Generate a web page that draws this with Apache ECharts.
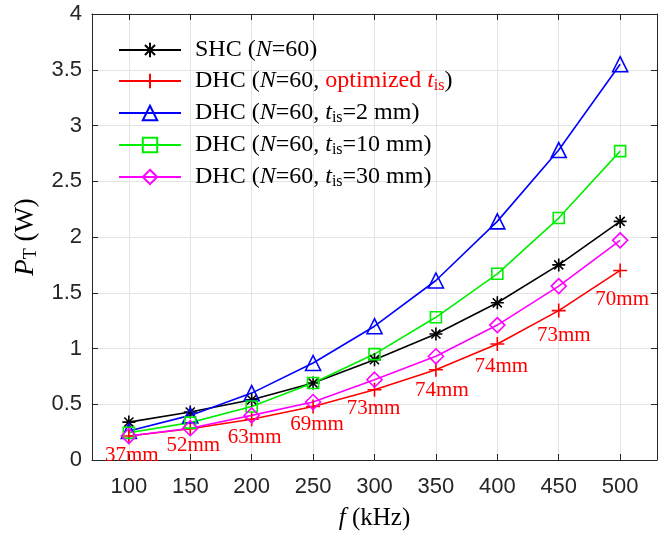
<!DOCTYPE html>
<html>
<head>
<meta charset="utf-8">
<script src="https://cdn.jsdelivr.net/npm/echarts@6/dist/echarts.min.js"></script>
<style>
  html, body { margin: 0; padding: 0; background: #fff; }
  #chart { width: 671px; height: 533px; }
</style>
</head>
<body>
<div id="chart"></div>
<script>
// frequencies (kHz)
const freqs = [100, 150, 200, 250, 300, 350, 400, 450, 500];
const xTicks = [100, 150, 200, 250, 300, 350, 400, 450, 500];

// transmitted power P_T (W)
const shc = [0.34, 0.43, 0.54, 0.69, 0.90, 1.13, 1.41, 1.75, 2.14];
const dhcOpt = [0.215, 0.28, 0.365, 0.48, 0.63, 0.81, 1.04, 1.34, 1.70];
const dhc2 = [0.26, 0.40, 0.60, 0.87, 1.20, 1.61, 2.14, 2.78, 3.55];
const dhc10 = [0.245, 0.335, 0.48, 0.69, 0.95, 1.28, 1.67, 2.17, 2.77];
const dhc30 = [0.215, 0.285, 0.40, 0.52, 0.72, 0.93, 1.21, 1.56, 1.97];

// optimized t_is labels on the red curve
const optLabels = ['37mm', '52mm', '63mm', '69mm', '73mm', '74mm', '74mm', '73mm', '70mm'];

const names = ['SHC', 'DHC opt', 'DHC 2', 'DHC 10', 'DHC 30'];
const legendText = {
    'SHC': '{n|SHC (}{i|N}{n|=60)}',
    'DHC opt': '{n|DHC (}{i|N}{n|=60, }{r|optimized }{ri|t}{rs|is}{n|)}',
    'DHC 2': '{n|DHC (}{i|N}{n|=60, }{i|t}{s|is}{n|=2 mm)}',
    'DHC 10': '{n|DHC (}{i|N}{n|=60, }{i|t}{s|is}{n|=10 mm)}',
    'DHC 30': '{n|DHC (}{i|N}{n|=60, }{i|t}{s|is}{n|=30 mm)}'
};

const serif = '"Liberation Serif", "Times New Roman", serif';
const sans = '"Liberation Sans", Arial, sans-serif';
const axisGray = '#262626';

const asterisk = 'path://M0,-10L0,10M-10,0L10,0M-7,-7L7,7M-7,7L7,-7';
const plus = 'path://M0,-10L0,10M-10,0L10,0';

const labelShift = [[3, -1], [3, -3], [3, -2], [4, -2], [-1, -1], [6, 1], [4, 2], [5, 5], [2, 9]];

function pairs(vals) {
    return vals.map((v, i) => [freqs[i], v]);
}

function lineSeries(name, vals, color, symbol, size) {
    return {
        name: name,
        type: 'line',
        data: pairs(vals),
        symbol: symbol,
        symbolSize: size,
        lineStyle: {color: color, width: 1.6},
        itemStyle: {color: 'none', borderColor: color, borderWidth: 1.6},
        emphasis: {disabled: true},
        animation: false
    };
}

const chart = echarts.init(document.getElementById('chart'));

const redSeries = lineSeries(names[1], dhcOpt, '#ff0000', plus, 14);
redSeries.data = dhcOpt.map((v, i) => ({
    value: [freqs[i], v],
    label: {offset: labelShift[i]}
}));
redSeries.label = {
    show: true,
    position: 'bottom',
    distance: 0,
    formatter: p => optLabels[p.dataIndex],
    color: '#ff0000',
    fontFamily: serif,
    fontSize: 21
};

const option = {
    backgroundColor: '#fff',
    grid: {left: 92, right: 14, top: 14, bottom: 73, containLabel: false, outerBoundsMode: 'none'},
    legend: {
        orient: 'vertical',
        left: 113,
        top: 33,
        itemWidth: 62,
        itemHeight: 18,
        itemGap: 7,
        data: names,
        formatter: name => legendText[name],
        textStyle: {
            padding: [0, 0, 0, 9],
            rich: {
                n: {fontFamily: serif, fontSize: 24, color: '#000'},
                i: {fontFamily: serif, fontSize: 24, fontStyle: 'italic', color: '#000'},
                s: {fontFamily: serif, fontSize: 16, color: '#000', padding: [10, 0, 0, 0]},
                r: {fontFamily: serif, fontSize: 24, color: '#ff0000'},
                ri: {fontFamily: serif, fontSize: 24, fontStyle: 'italic', color: '#ff0000'},
                rs: {fontFamily: serif, fontSize: 16, color: '#ff0000', padding: [10, 0, 0, 0]}
            }
        }
    },
    xAxis: [{
        type: 'value',
        min: 70,
        max: 530,
        name: '{i|f} (kHz)',
        nameLocation: 'middle',
        nameGap: 46,
        nameTextStyle: {
            fontFamily: serif, fontSize: 25, color: '#000',
            rich: {i: {fontFamily: serif, fontSize: 25, fontStyle: 'italic', color: '#000'}}
        },
        axisLine: {onZero: false, lineStyle: {color: axisGray, width: 1}},
        axisTick: {inside: true, length: 6, customValues: xTicks, lineStyle: {color: axisGray}},
        axisLabel: {customValues: xTicks, margin: 16, fontFamily: sans, fontSize: 22, color: axisGray},
        splitLine: {show: true, lineStyle: {color: '#e3e3e3', width: 1}}
    }, {
        type: 'value',
        position: 'top',
        min: 70,
        max: 530,
        axisLine: {onZero: false, lineStyle: {color: axisGray, width: 1}},
        axisTick: {inside: true, length: 6, customValues: xTicks, lineStyle: {color: axisGray}},
        axisLabel: {show: false},
        splitLine: {show: false}
    }],
    yAxis: [{
        type: 'value',
        min: 0,
        max: 4,
        interval: 0.5,
        name: '{i|P}{s|T} (W)',
        nameLocation: 'middle',
        nameRotate: 90,
        nameGap: 48,
        nameTextStyle: {
            fontFamily: serif, fontSize: 27, color: '#000',
            rich: {
                i: {fontFamily: serif, fontSize: 27, fontStyle: 'italic', color: '#000'},
                s: {fontFamily: serif, fontSize: 18, color: '#000', padding: [12, 0, 0, 0]}
            }
        },
        axisLine: {show: true, onZero: false, lineStyle: {color: axisGray, width: 1}},
        axisTick: {show: true, inside: true, length: 6, lineStyle: {color: axisGray}},
        axisLabel: {margin: 10, fontFamily: sans, fontSize: 22, color: axisGray},
        splitLine: {show: true, lineStyle: {color: '#e3e3e3', width: 1}}
    }, {
        type: 'value',
        position: 'right',
        min: 0,
        max: 4,
        interval: 0.5,
        axisLine: {show: true, onZero: false, lineStyle: {color: axisGray, width: 1}},
        axisTick: {show: true, inside: true, length: 6, lineStyle: {color: axisGray}},
        axisLabel: {show: false},
        splitLine: {show: false}
    }],
    series: [
        lineSeries(names[0], shc, '#000000', asterisk, 13),
        redSeries,
        lineSeries(names[2], dhc2, '#0000ff', 'triangle', 15),
        lineSeries(names[3], dhc10, '#00ee00', 'rect', 11),
        lineSeries(names[4], dhc30, '#ff00ff', 'diamond', 15)
    ]
};

option && chart.setOption(option);
</script>
</body>
</html>
